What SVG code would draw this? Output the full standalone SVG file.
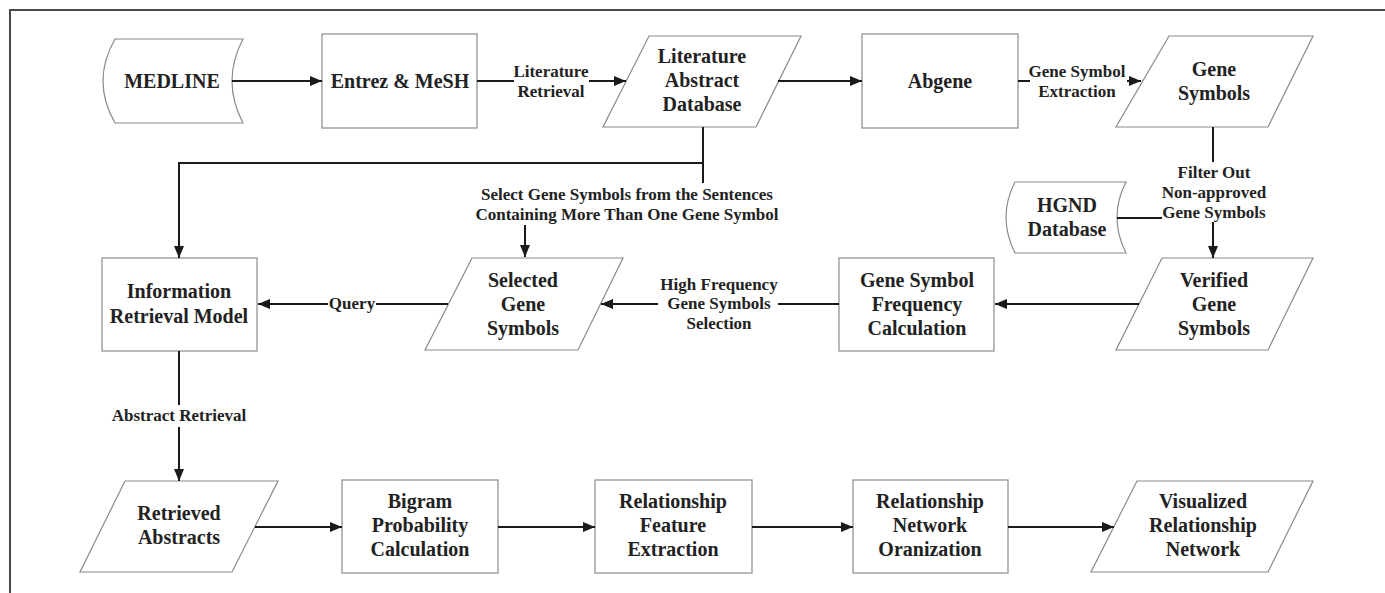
<svg xmlns="http://www.w3.org/2000/svg" width="1385" height="593" viewBox="0 0 1385 593">
<style>
.n{fill:#fff;stroke:#8a8a8a;stroke-width:1.2}
.t{font-family:"Liberation Serif","Times New Roman",serif;font-weight:bold;font-size:20px;fill:#222;text-anchor:middle}
.l{font-family:"Liberation Serif","Times New Roman",serif;font-weight:bold;font-size:17px;fill:#222;text-anchor:middle}
.c{fill:none;stroke:#1a1a1a;stroke-width:2}
</style>
<defs>
<marker id="ah" markerUnits="userSpaceOnUse" markerWidth="13" markerHeight="11" refX="12" refY="5" orient="auto">
<path d="M0,0 L12,5 L0,10 z" fill="#1a1a1a"/>
</marker>
</defs>
<rect width="1385" height="593" fill="#fff"/>
<path d="M10,593 V10 H1385" fill="none" stroke="#4a4a4a" stroke-width="2"/>

<g id="medline">
<path class="n" d="M115,39 L243,39 Q221,81 243,123 L115,123 Q91,81 115,39 z"/>
<text class="t" x="172" y="88">MEDLINE</text>
</g>
<g id="entrez">
<rect class="n" x="322" y="34" width="155" height="94"/>
<text class="t" x="400" y="88">Entrez &amp; MeSH</text>
</g>
<g id="lad">
<path class="n" d="M649,36 L801,36 L756,127 L603,127 z"/>
<text class="t" x="702" y="63">Literature</text>
<text class="t" x="702" y="87">Abstract</text>
<text class="t" x="702" y="111">Database</text>
</g>
<g id="abgene">
<rect class="n" x="862" y="34" width="156" height="94"/>
<text class="t" x="940" y="88">Abgene</text>
</g>
<g id="genesymbols">
<path class="n" d="M1169,36 L1313,36 L1268,127 L1116,127 z"/>
<text class="t" x="1214" y="76">Gene</text>
<text class="t" x="1214" y="100">Symbols</text>
</g>
<g id="hgnd">
<path class="n" d="M1015,182 L1126,182 Q1108,217 1126,253 L1015,253 Q997,217 1015,182 z"/>
<text class="t" x="1067" y="212">HGND</text>
<text class="t" x="1067" y="236">Database</text>
</g>
<g id="verified">
<path class="n" d="M1162,258 L1313,258 L1268,350 L1116,350 z"/>
<text class="t" x="1214" y="287">Verified</text>
<text class="t" x="1214" y="311">Gene</text>
<text class="t" x="1214" y="335">Symbols</text>
</g>
<g id="gsfc">
<rect class="n" x="839" y="258" width="155" height="93"/>
<text class="t" x="917" y="287">Gene Symbol</text>
<text class="t" x="917" y="311">Frequency</text>
<text class="t" x="917" y="335">Calculation</text>
</g>
<g id="selected">
<path class="n" d="M472,258 L623,258 L578,350 L425,350 z"/>
<text class="t" x="523" y="287">Selected</text>
<text class="t" x="523" y="311">Gene</text>
<text class="t" x="523" y="335">Symbols</text>
</g>
<g id="irm">
<rect class="n" x="102" y="258" width="155" height="93"/>
<text class="t" x="179" y="298">Information</text>
<text class="t" x="179" y="323">Retrieval Model</text>
</g>
<g id="retrieved">
<path class="n" d="M125,481 L278,481 L232,572 L80,572 z"/>
<text class="t" x="179" y="520">Retrieved</text>
<text class="t" x="179" y="544">Abstracts</text>
</g>
<g id="bigram">
<rect class="n" x="342" y="480" width="156" height="93"/>
<text class="t" x="420" y="508">Bigram</text>
<text class="t" x="420" y="532">Probability</text>
<text class="t" x="420" y="556">Calculation</text>
</g>
<g id="rfe">
<rect class="n" x="595" y="480" width="157" height="93"/>
<text class="t" x="673" y="508">Relationship</text>
<text class="t" x="673" y="532">Feature</text>
<text class="t" x="673" y="556">Extraction</text>
</g>
<g id="rno">
<rect class="n" x="853" y="480" width="155" height="93"/>
<text class="t" x="930" y="508">Relationship</text>
<text class="t" x="930" y="532">Network</text>
<text class="t" x="930" y="556">Oranization</text>
</g>
<g id="vrn">
<path class="n" d="M1137,481 L1313,481 L1268,572 L1091,572 z"/>
<text class="t" x="1203" y="508">Visualized</text>
<text class="t" x="1203" y="532">Relationship</text>
<text class="t" x="1203" y="556">Network</text>
</g>

<g id="connectors">
<path class="c" d="M232,81 H322" marker-end="url(#ah)"/>
<path class="c" d="M477,81 H514"/>
<path class="c" d="M589,81 H626" marker-end="url(#ah)"/>
<path class="c" d="M778,81 H862" marker-end="url(#ah)"/>
<path class="c" d="M1018,81 H1030"/>
<path class="c" d="M1127,81 H1141" marker-end="url(#ah)"/>
<path class="c" d="M1213,127 V162"/>
<path class="c" d="M1213,222 V258" marker-end="url(#ah)"/>
<path class="c" d="M1117,218 H1162"/>
<path class="c" d="M1139,304 H995" marker-end="url(#ah)"/>
<path class="c" d="M839,304 H778"/>
<path class="c" d="M658,304 H601" marker-end="url(#ah)"/>
<path class="c" d="M448,304 H376"/>
<path class="c" d="M328,304 H258" marker-end="url(#ah)"/>
<path class="c" d="M703,127 V163 H179 V258" marker-end="url(#ah)"/>
<path class="c" d="M703,163 V183"/>
<path class="c" d="M525,225 V257" marker-end="url(#ah)"/>
<path class="c" d="M179,351 V405"/>
<path class="c" d="M179,427 V481" marker-end="url(#ah)"/>
<path class="c" d="M255,527 H342" marker-end="url(#ah)"/>
<path class="c" d="M498,527 H595" marker-end="url(#ah)"/>
<path class="c" d="M752,527 H853" marker-end="url(#ah)"/>
<path class="c" d="M1008,527 H1114" marker-end="url(#ah)"/>
<text class="l" x="551" y="77">Literature</text>
<text class="l" x="551" y="97">Retrieval</text>
<text class="l" x="1077" y="77">Gene Symbol</text>
<text class="l" x="1077" y="97">Extraction</text>
<text class="l" x="1214" y="178">Filter Out</text>
<text class="l" x="1214" y="198">Non-approved</text>
<text class="l" x="1214" y="218">Gene Symbols</text>
<text class="l" x="627" y="200">Select Gene Symbols from the Sentences</text>
<text class="l" x="627" y="220">Containing More Than One Gene Symbol</text>
<text class="l" x="719" y="290">High Frequency</text>
<text class="l" x="719" y="309">Gene Symbols</text>
<text class="l" x="719" y="329">Selection</text>
<text class="l" x="352" y="309">Query</text>
<text class="l" x="179" y="421">Abstract Retrieval</text>
</g>
</svg>
